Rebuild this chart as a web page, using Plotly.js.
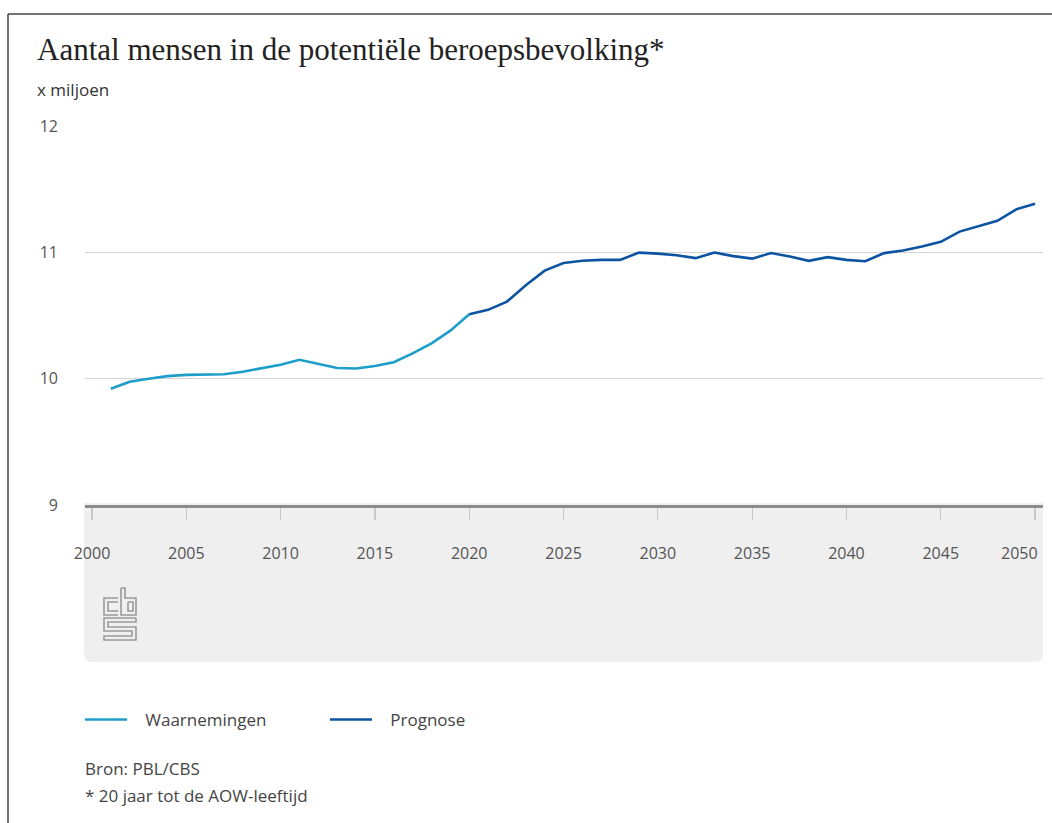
<!DOCTYPE html>
<html>
<head>
<meta charset="utf-8">
<script src="https://cdn.plot.ly/plotly-3.0.1.min.js"></script>
<style>html,body{margin:0;padding:0;background:#fff;}#chart{width:1052px;height:823px;}</style>
</head>
<body>
<div id="chart"></div>
<script>
// ---- data ----
const obsYears = [2001,2002,2003,2004,2005,2006,2007,2008,2009,2010,2011,2012,2013,2014,2015,2016,2017,2018,2019,2020];
const obsValues = [9.92,9.975,10.0,10.02,10.03,10.03,10.035,10.055,10.08,10.11,10.15,10.12,10.085,10.08,10.1,10.13,10.2,10.28,10.38,10.51];
const progYears = [2020,2021,2022,2023,2024,2025,2026,2027,2028,2029,2030,2031,2032,2033,2034,2035,2036,2037,2038,2039,2040,2041,2042,2043,2044,2045,2046,2047,2048,2049,2050];
const progValues = [10.51,10.545,10.61,10.74,10.855,10.915,10.933,10.94,10.94,10.998,10.99,10.977,10.954,10.998,10.97,10.95,10.994,10.967,10.933,10.962,10.94,10.93,10.994,11.014,11.046,11.083,11.164,11.21,11.25,11.34,11.385];
const seriesNames = ['Waarnemingen','Prognose'];
const xTickVals = [2000,2005,2010,2015,2020,2025,2030,2035,2040,2045,2050];
const xTickText = ['2000','2005','2010','2015','2020','2025','2030','2035','2040','2045','2050'];
const yTickVals = [9,10,11,12];
const yTickText = ['9','10','11','12'];

// ---- geometry helpers (pixel -> paper) ----
const W = 1052, H = 823;
const mL = 85, mR = 9, mT = 126, mB = 318;
const pw = W - mL - mR, ph = H - mT - mB;
const px = x => (x - mL) / pw;
const py = y => (H - mB - y) / ph;

function pathFromPts(pts, close) {
  return pts.map((p, i) => (i ? 'L' : 'M') + px(p[0]).toFixed(5) + ',' + py(p[1]).toFixed(5)).join(' ') + (close ? ' Z' : '');
}

// the last x tick label sits left of its tick in the original (kept inside the frame): drawn as an annotation
const lastIdx = xTickText.length - 1;
const xTickLabels = xTickText.map((t, i) => i === lastIdx ? '' : t);

// gray panel with rounded bottom corners
const rx = 8 / pw, ry = 8 / ph;
const x0 = px(84), x1 = px(1043), yTop = py(503), yBot = py(662);
const panelPath = `M${x0},${yTop} L${x1},${yTop} L${x1},${yBot + ry} Q${x1},${yBot} ${x1 - rx},${yBot} L${x0 + rx},${yBot} Q${x0},${yBot} ${x0},${yBot + ry} Z`;

const logoColor = '#9a9a9a';
const logoLines = [
  [[118,598],[104,598],[104,615],[118,615]],
  [[118,602],[108,602],[108,611],[118,611]],
  [[121,588],[121,615],[136,615],[136,598],[125,598],[125,588],[121,588]],
  [[128,602],[133,602],[133,611],[128,611],[128,602]],
  [[136,618],[104,618],[104,631],[132,631],[132,636],[104,636],[104,640],[136,640],[136,627],[108,627],[108,622],[136,622],[136,618]]
];

const shapes = [
  {type:'path', xref:'paper', yref:'paper', path: panelPath, fillcolor:'#efefef', line:{width:0}, layer:'below'},
  {type:'line', xref:'paper', yref:'paper', x0:px(8), x1:px(1052), y0:py(14), y1:py(14), line:{color:'#444', width:1.5}},
  {type:'line', xref:'paper', yref:'paper', x0:px(8), x1:px(8), y0:py(14), y1:py(823), line:{color:'#444', width:1.5}}
].concat(logoLines.map(l => ({type:'path', xref:'paper', yref:'paper', path: pathFromPts(l, false), line:{color:logoColor, width:1.6}})));

const sans = 'Open Sans, sans-serif';
const legendPad = '\u00a0\u00a0\u00a0';

const traces = [
  {x: obsYears, y: obsValues, name: legendPad + seriesNames[0], type:'scatter', mode:'lines',
   line:{color:'#1c9ec8', width:2.6}},
  {x: progYears, y: progValues, name: legendPad + seriesNames[1], type:'scatter', mode:'lines',
   line:{color:'#0c53a2', width:2.6}}
];

const layout = {
  width: W, height: H,
  margin: {l: mL, r: mR, t: mT, b: mB},
  paper_bgcolor: '#ffffff', plot_bgcolor: 'rgba(0,0,0,0)',
  title: {text: 'Aantal mensen in de potentiële beroepsbevolking*', x: 37 / W, xref: 'container', xanchor: 'left',
          y: 1 - 49 / H, yref: 'container', yanchor: 'middle',
          font: {family: 'Liberation Serif, serif', size: 31, color: '#222'}},
  xaxis: {range: [1999.63, 2050.42], tickvals: xTickVals, ticktext: xTickLabels,
          showgrid: false, zeroline: false, showline: true, linecolor: '#8c8c8c', linewidth: 3,
          ticks: 'outside', ticklen: 12, tickwidth: 1.2, tickcolor: '#c8c8c8',
          ticklabelstandoff: 20, tickfont: {family: sans, size: 16, color: '#555'}, fixedrange: true},
  yaxis: {range: [9, 12], tickvals: yTickVals, ticktext: yTickText,
          showgrid: true, gridcolor: '#d4d4d4', gridwidth: 1, zeroline: false, showline: false,
          ticks: '', ticklabelstandoff: 26, tickfont: {family: sans, size: 16, color: '#555'}, fixedrange: true},
  showlegend: true,
  legend: {orientation: 'h', x: px(80), xanchor: 'left', y: py(720), yanchor: 'middle',
           font: {family: sans, size: 17, color: '#444'}, bgcolor: 'rgba(0,0,0,0)',
           entrywidth: 188, entrywidthmode: 'pixels', itemwidth: 42, traceorder: 'normal'},
  shapes: shapes,
  annotations: [
    {text: xTickText[lastIdx], xref: 'x', yref: 'paper', x: xTickVals[lastIdx], y: py(553), xshift: 5,
     xanchor: 'right', yanchor: 'middle', showarrow: false,
     font: {family: sans, size: 16, color: '#555'}},
    {text: 'x miljoen', xref: 'paper', yref: 'paper', x: px(35), y: py(89), xanchor: 'left', yanchor: 'middle', showarrow: false,
     font: {family: sans, size: 17, color: '#333'}},
    {text: 'Bron: PBL/CBS', xref: 'paper', yref: 'paper', x: px(83), y: py(768), xanchor: 'left', yanchor: 'middle', showarrow: false,
     font: {family: sans, size: 17, color: '#444'}},
    {text: '* 20 jaar tot de AOW-leeftijd', xref: 'paper', yref: 'paper', x: px(83), y: py(796), xanchor: 'left', yanchor: 'middle', showarrow: false,
     font: {family: sans, size: 17, color: '#444'}}
  ]
};

Plotly.newPlot('chart', traces, layout, {displayModeBar: false, staticPlot: true});
</script>
</body>
</html>
